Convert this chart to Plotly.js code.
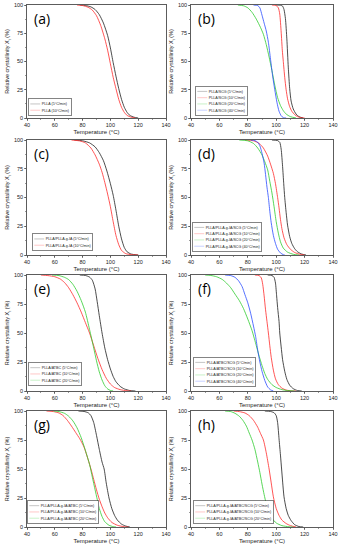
<!DOCTYPE html>
<html><head><meta charset="utf-8">
<script src="https://cdn.plot.ly/plotly-3.0.1.min.js"></script>
<style>
html,body{margin:0;padding:0;background:#fff;width:340px;height:550px;overflow:hidden}
#chart{width:340px;height:550px;overflow:hidden;position:relative}
</style>
</head><body><div id="chart"></div>
<script>
// ---------- labels ----------
const panelLabels = ['(a)','(b)','(c)','(d)','(e)','(f)','(g)','(h)'];
const sampleNames = ['PLLA','PLLA/SCG','PLLA/PLLA-g-IA','PLLA/PLLA-g-IA/SCG','PLLA/ATBC','PLLA/ATBC/SCG','PLLA/PLLA-g-IA/ATBC','PLLA/PLLA-g-IA/ATBC/SCG'];
const rateLabels = ['5°C/min','10°C/min','20°C/min','40°C/min'];
const xTickVals = [40,60,80,100,120,140];
const yTickVals = [0,25,50,75,100];

// ---------- data: temperature (°C) and relative crystallinity Xt (%) ----------
// (a) PLLA
const aT5  = [78,82,86,89,92,95,98,100,102,104,106,108,110,112,114,117,120];
const aX5  = [100,99.6,98.3,96,91.5,84,73,62,49,37,26,16.5,9.5,5,2.3,0.7,0];
const aT10 = [76,80,84,87,90,93,96,98,100,102,104,106,108,110,112,115,118];
const aX10 = [100,99.5,98,95.5,90.5,82,70,60,48,36,26,16.5,9.5,5,2.3,0.7,0];
// (b) PLLA/SCG
const bT5  = [100,103,104.5,105.5,106.5,107.5,108.5,109.5,110.5,112,114,116,119];
const bX5  = [100,99.8,99,96,88,70,45,26,15,8,3.5,1.2,0];
const bT10 = [97,100,101.5,102.5,103.5,104.3,105,106,107,108,109.5,111,113,115,118,120];
const bX10 = [100,99.5,97.5,92,76,60,50,36,25,17,10,6,3,1.2,0.2,0];
const bT20 = [73,77,80,83,86,89,91,93,95,97,99,101,103,105,107,110,114];
const bX20 = [100,99.3,97.5,93.5,87.5,80,74,65,54,42,29,18,11,6.5,3.5,1.2,0];
const bT40 = [84,87,88.5,90,91.5,93,94.5,96,97.5,99,100.5,102,103.5,105,107];
const bX40 = [100,99.5,97.5,91,84,77,67,52,37,25,14,6,2,0.3,0];
// (c) PLLA/PLLA-g-IA
const cT5  = [74,80,85,89,92,95,97.5,100,102,104,106,108,110,112,115,120];
const cX5  = [100,99.3,97.5,94,89,82,73,62,52,39,25,14,6.5,2.8,0.8,0];
const cT10 = [72,78,82,86,89,92,94,96,98,100,102,104,106,108,111,115,120];
const cX10 = [100,99.2,97.5,93,87,79,72,63,53,42,29,17,9,4,1.2,0.3,0];
// (d) PLLA/PLLA-g-IA/SCG
const dT5  = [97,101,102.5,103.5,104.5,105.3,106,107,108,109.5,111,113,115,118,121];
const dX5  = [100,99.5,98,92,77,62,50,37,26,16,10,5.5,2.8,0.8,0];
const dT10 = [78,84,88,91,94,96,98,99.5,101,102,103,104,105.5,107.5,110,113,117,120];
const dX10 = [100,99.3,97,93,86,79,71,62,50,41,31,23,15,9,5,2.2,0.5,0];
const dT20 = [74,80,84,87,90,92,94,95.5,97,98.5,100,101.5,103,105,108,112,116];
const dX20 = [100,99.3,97,93,87,81,74,64,54,42,29,19,11.5,6,2.5,0.6,0];
const dT40 = [82,85,87,88.5,90,91.5,92.5,93.5,94.5,95.5,96.5,98,99.5,101,103,105,106];
const dX40 = [100,99.5,98,95,88.5,80,70,59,50,38,28,17,10,5,1.8,0.3,0];
// (e) PLLA/ATBC
const eT5  = [78,82,85,87,89,90.5,92,94,96,98,100,102,104,107,110,114,118];
const eX5  = [100,99.6,98.2,95.5,88,77,65,50,37,27,19,12.5,8,4,1.8,0.4,0];
const eT10 = [50,55,60,64,67,70,73,76,79,82,85,88,91,94,97,100,103,107,112,115];
const eX10 = [100,99.5,98.5,96.5,93.5,89,83,76,68,59,50,39,28,18.5,11,6,3,1.2,0.2,0];
const eT20 = [58,63,67,70,73,76,79,82,85,88,90,92,94,96,98,100,102];
const eX20 = [100,99.5,98,96,92,86,78,68,53,37,26,16.5,9.5,4.5,1.8,0.5,0];
// (f) PLLA/ATBC/SCG
const fT5  = [94,97,98.5,99.5,100.3,101,102,102.5,103.5,104.5,106,107.5,109.5,112,115,118];
const fX5  = [100,99.6,98,93,82,72,60,50,38,27,17,10,5,2,0.4,0];
const fT10 = [85,88,89.5,90.5,91.5,92.5,93.5,94.5,95.5,96.5,98,99.5,101.5,104,107,111,114];
const fX10 = [100,99.5,97.5,92,82,70,60,50,39,29,18,10.5,5.5,2.5,0.8,0.1,0];
const fT20 = [50,54,58,62,65,68,71,74,77,80,83,86,88,90,92,94,97,100,104,108,113];
const fX20 = [100,99.6,98.5,96.2,93,89,83.5,78,71,62,52,39,30,22,15,10,5.5,3,1.2,0.4,0];
const fT40 = [64,68,71,73.5,76,78,80,82,84,85.5,87,88.5,90,92,94,96,98];
const fX40 = [100,99.5,98,95,90,83,76,67,56,47,35,25,17,9,3.5,1,0];
// (g) PLLA/PLLA-g-IA/ATBC
const gT5  = [77,81,84,86,88,90,92,94,95.5,97,99,101,103,105,108,111,114];
const gX5  = [100,99.6,98.5,96,90,79,67,56,50,38,25,16,10,6,2.5,0.8,0];
const gT10 = [54,59,63,66,69,72,75,78,81,84,86,88,90,92,94,96,98,101,105,110,113];
const gX10 = [100,99.5,98.3,96,92,87,81.5,76,69,58,50,41,32,24,17.5,12,8,4,1.5,0.2,0];
const gT20 = [59,63,67,70,73,76,79,82,85,87,89,90.5,92,94,96,99,102,104];
const gX20 = [100,99.5,98,95.5,91.5,85.5,77,66,54,43,32,24,16,9,4.5,1.5,0.3,0];
// (h) PLLA/PLLA-g-IA/ATBC/SCG
const hT5  = [92,96,98.5,100,101,102,103,103.8,104.6,105.5,107,108.5,110.5,113,116,119];
const hX5  = [100,99.6,98.5,96,90,76,62,50,38,26,16,10,5.5,2,0.4,0];
const hT10 = [70,74,78,81,84,87,89,91,93,95,96.5,98,100,102,104,107,110,114];
const hX10 = [100,99.5,98.3,96,92,86,80.5,75,64,50,38,26,16,10,6,3,1.2,0];
const hT20 = [64,68,71,74,76.5,79,81,83,85,87,88.5,90,91.5,93,95,97,100,104,109,112];
const hX20 = [100,99.5,98,95.5,92,87,81,75,67,56,47,37,28,20,12.5,7.5,3.5,1.2,0.2,0];

const panels = [
  {T:[aT5,aT10],           X:[aX5,aX10]},
  {T:[bT5,bT10,bT20,bT40], X:[bX5,bX10,bX20,bX40]},
  {T:[cT5,cT10],           X:[cX5,cX10]},
  {T:[dT5,dT10,dT20,dT40], X:[dX5,dX10,dX20,dX40]},
  {T:[eT5,eT10,eT20],      X:[eX5,eX10,eX20]},
  {T:[fT5,fT10,fT20,fT40], X:[fX5,fX10,fX20,fX40]},
  {T:[gT5,gT10,gT20],      X:[gX5,gX10,gX20]},
  {T:[hT5,hT10,hT20],      X:[hX5,hX10,hX20]}
];

// ---------- styling ----------
const rateColors = ['#1e1e1e','#ff2a2a','#2ecc2e','#2a4cff'];
const colDomains = [[27/340,166/340],[191/340,333/340]];
const rowDomains = [[1-118/550,1-5/550],[1-255/550,1-140/550],[1-391/550,1-275/550],[1-527/550,1-411/550]];
const legendPos = [[28,117],[195,117],[32,252],[192,253],[28,387],[193,388],[27,525],[193,525]];
const FONT = 'Liberation Sans, Arial, sans-serif';
const tickFont = {family:FONT, size:5.5, color:'#222'};
const LEG_SCALE = 0.33;

const traces = [];
const layout = {
  width:340, height:550, margin:{l:0,r:0,t:0,b:0,pad:0,autoexpand:false}, autosize:false,
  paper_bgcolor:'#fff', plot_bgcolor:'#fff', showlegend:true,
  font:{family:FONT, size:6, color:'#222'},
  annotations:[]
};

panels.forEach((p, i) => {
  const n = i + 1;
  const xa = n === 1 ? 'x' : 'x' + n;
  const ya = n === 1 ? 'y' : 'y' + n;
  const lg = n === 1 ? 'legend' : 'legend' + n;
  const col = i % 2, row = Math.floor(i / 2);
  p.T.forEach((t, k) => {
    traces.push({
      type:'scatter', mode:'lines', x:t, y:p.X[k], xaxis:xa, yaxis:ya, legend:lg,
      name: sampleNames[i] + ' (' + rateLabels[k] + ')',
      line:{color:rateColors[k], width:0.8, shape:'spline', smoothing:0.6},
      hoverinfo:'skip'
    });
  });
  const axCommon = {
    showline:true, linecolor:'#333', linewidth:0.8, mirror:true,
    ticks:'outside', ticklen:2, tickwidth:0.6, tickcolor:'#333',
    showgrid:false, zeroline:false, tickfont:tickFont, automargin:false
  };
  layout['xaxis' + (n === 1 ? '' : n)] = Object.assign({}, axCommon, {
    domain:colDomains[col], anchor:ya, range:[40,140], tickvals:xTickVals,
    minor:{ticks:'outside', ticklen:1.2, tickwidth:0.5, dtick:10, tick0:40, tickcolor:'#333'},
    title:{text:'Temperature (°C)', font:{family:FONT, size:6, color:'#222'}, standoff:2}
  });
  layout['yaxis' + (n === 1 ? '' : n)] = Object.assign({}, axCommon, {
    domain:rowDomains[row], anchor:xa, range:[0,100], tickvals:yTickVals,
    minor:{ticks:'outside', ticklen:1.2, tickwidth:0.5, dtick:12.5, tick0:0, tickcolor:'#333'},
    title:{text:'Relative crystallinity X<sub>t</sub> (%)', font:{family:FONT, size:5.5, color:'#222'}, standoff:3}
  });
  layout[lg] = {
    x: legendPos[i][0] / 340, y: 1 - legendPos[i][1] / 550, xref:'paper', yref:'paper',
    xanchor:'left', yanchor:'bottom',
    bgcolor:'#fff', bordercolor:'#444', borderwidth:2,
    font:{family:FONT, size:11, color:'#222'},
    tracegroupgap:0, itemwidth:30
  };
  layout.annotations.push({
    text:panelLabels[i], xref:xa + ' domain', yref:ya + ' domain',
    x:0.035, y:0.985, xanchor:'left', yanchor:'top', showarrow:false,
    font:{family:'Open Sans, DejaVu Sans, sans-serif', size:14, color:'#000'}
  });
});

Plotly.newPlot('chart', traces, layout, {staticPlot:true, displayModeBar:false, responsive:false}).then(() => {
  const groups = document.querySelectorAll('.infolayer > g');
  groups.forEach(g => {
    const cls = g.getAttribute('class') || '';
    if (!/^legend\d*$/.test(cls)) return;
    const tr = g.getAttribute('transform') || '';
    const m = tr.match(/translate\(\s*([-\d.e]+)[ ,]+([-\d.e]+)\s*\)/);
    if (!m) return;
    const tx = parseFloat(m[1]), ty = parseFloat(m[2]);
    const bg = g.querySelector('rect.bg');
    const H = bg ? parseFloat(bg.getAttribute('height')) : 0;
    const nty = ty + H * (1 - LEG_SCALE);
    g.setAttribute('transform', 'translate(' + tx + ',' + nty + ') scale(' + LEG_SCALE + ')');
  });
  document.querySelectorAll('#chart svg text').forEach(t => {
    if (!t.textContent || !t.textContent.trim()) t.remove();
  });
});
</script>
</body></html>
